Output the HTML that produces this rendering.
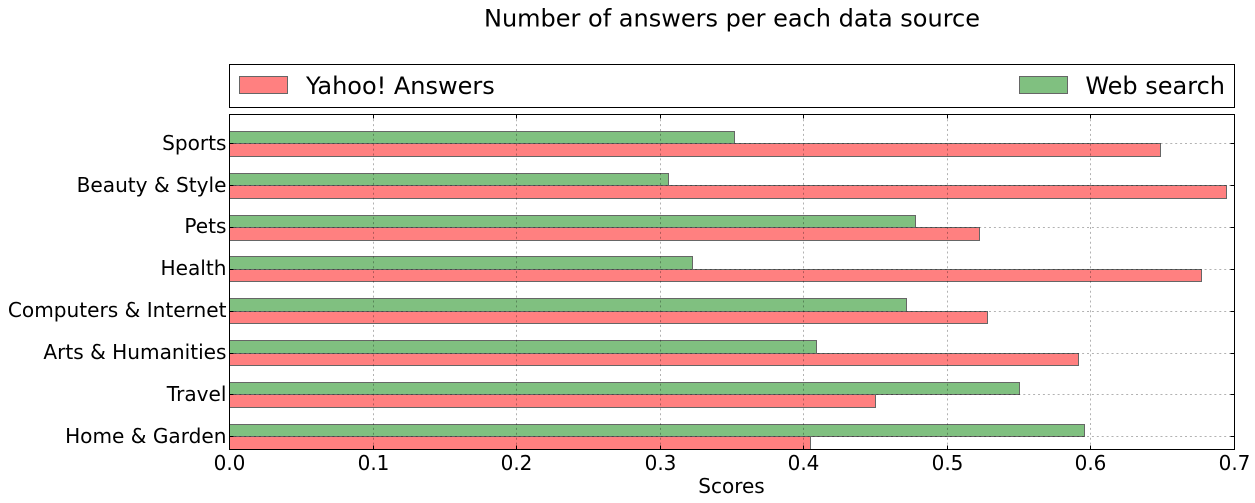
<!DOCTYPE html>
<html>
<head>
<meta charset="utf-8">
<style>
html,body{margin:0;padding:0;background:#fff;width:1255px;height:503px;overflow:hidden}
svg{display:block}
text{font-family:"DejaVu Sans",sans-serif;fill:#000}
</style>
</head>
<body>
<svg id="chart" xmlns="http://www.w3.org/2000/svg" width="1255" height="503" viewBox="0 0 1255 503">
<text x="732" y="26.500" font-size="24" text-anchor="middle">Number of answers per each data source</text>
<g>
<rect x="229.500" y="64.500" width="1005" height="43" fill="#fff" stroke="#000" stroke-width="1"/>
<rect x="239.500" y="76.500" width="48" height="17" fill="#ff8080" stroke="#666" stroke-width="1"/>
<text x="306" y="94" font-size="24">Yahoo! Answers</text>
<rect x="1019.500" y="76.500" width="48" height="17" fill="#80c080" stroke="#666" stroke-width="1"/>
<text x="1225" y="94" font-size="24" text-anchor="end">Web search</text>
</g>
<g id="bars"></g>
<g id="grid"></g>
<g id="ticks"></g>
<rect x="229.500" y="114.500" width="1005" height="335" fill="none" stroke="#000" stroke-width="1"/>
<g id="labels"></g>
<text x="731.500" y="493" font-size="20" text-anchor="middle">Scores</text>
</svg>
<script>
const categories = ["Sports","Beauty & Style","Pets","Health","Computers & Internet","Arts & Humanities","Travel","Home & Garden"];
const yahooAnswers = [0.6485,0.6945,0.5224,0.677,0.528,0.591,0.45,0.4047];
const webSearch = [0.3517,0.3058,0.4775,0.3225,0.4715,0.409,0.5503,0.5955];
const xTicks = [0,0.1,0.2,0.3,0.4,0.5,0.6,0.7];
const xTickLabels = ["0.0","0.1","0.2","0.3","0.4","0.5","0.6","0.7"];

const NS = "http://www.w3.org/2000/svg";
const left = 229.5, right = 1234.5, top0 = 114.5, bottom = 449.5;
const xMax = 0.7;
function xScale(v){ return left + (v / xMax) * (right - left); }
function yScale(i){ return 143.8 + i * (293 / 7); }
function snap(v){ return Math.floor(v) + 0.5; }
function make(tag, attrs, parent){
  const el = document.createElementNS(NS, tag);
  for (const k in attrs) el.setAttribute(k, attrs[k]);
  parent.appendChild(el);
  return el;
}
const bars = document.getElementById('bars');
const grid = document.getElementById('grid');
const ticks = document.getElementById('ticks');
const labels = document.getElementById('labels');
const barH = 12.5;

categories.forEach(function(cat, i){
  const c = yScale(i);
  const cy = snap(c);
  const yTop = snap(c - barH);
  const yBot = snap(c + barH);
  const g = make('rect', {x:left, y:yTop, width:snap(xScale(webSearch[i])) - left, height:cy - yTop, fill:'#80c080', stroke:'#666', 'stroke-width':1}, bars);
  
  
  const r = make('rect', {x:left, y:cy, width:snap(xScale(yahooAnswers[i])) - left, height:yBot - cy, fill:'#ff8080', stroke:'#666', 'stroke-width':1}, bars);
  
  

  const gl = make('line', {x1:left, x2:right, y1:cy, y2:cy, stroke:'#000', 'stroke-opacity':0.3, 'stroke-width':1, 'stroke-dasharray':'2 2.900'}, grid);
  
  
  const t1 = make('line', {x1:left, x2:left + 4, y1:cy, y2:cy, stroke:'#000', 'stroke-width':1}, ticks);
  
  
  const t2 = make('line', {x1:right - 4, x2:right, y1:cy, y2:cy, stroke:'#000', 'stroke-width':1}, ticks);
  
  

  const lab = make('text', {x:226.5, y:Math.round(c + 5.9), 'font-size':20.1, 'text-anchor':'end'}, labels);
  lab.textContent = cat;
  
  
});

xTicks.forEach(function(v, i){
  const x = Math.round(xScale(v) - 0.5) + 0.5;
  if (i > 0 && i < xTicks.length - 1) {
    const gl = make('line', {x1:x, x2:x, y1:bottom, y2:top0, stroke:'#000', 'stroke-opacity':0.3, 'stroke-width':1, 'stroke-dasharray':'2 2.900'}, grid);
    
    
    const t1 = make('line', {x1:x, x2:x, y1:top0, y2:top0 + 4, stroke:'#000', 'stroke-width':1}, ticks);
    
    
    const t2 = make('line', {x1:x, x2:x, y1:bottom - 4, y2:bottom, stroke:'#000', 'stroke-width':1}, ticks);
    
    
  }
  const lab = make('text', {x:x, y:470, 'font-size':20, 'text-anchor':'middle'}, labels);
  lab.textContent = xTickLabels[i];
  
  
});
</script>
</body>
</html>
